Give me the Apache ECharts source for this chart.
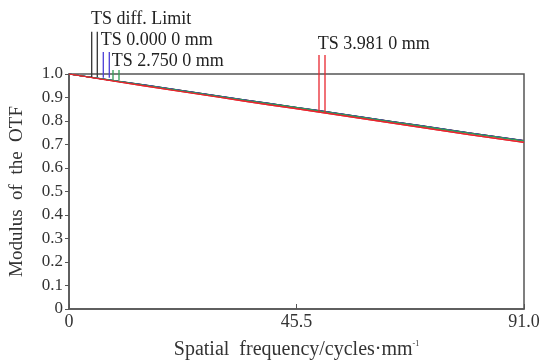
<!DOCTYPE html>
<html><head><meta charset="utf-8">
<script src="https://cdn.jsdelivr.net/npm/echarts@6/dist/echarts.min.js"></script>
<style>html,body{margin:0;padding:0;background:#fff}#c{width:543px;height:360px}</style>
</head><body><div id="c"></div>
<script>
// ---- data ----
const freq = [0, 10, 20, 30, 40, 50, 60, 70, 80, 91];
const diffT = [1.0, 0.969, 0.938, 0.906, 0.875, 0.844, 0.812, 0.781, 0.750, 0.717];
const diffS = [1.0, 0.969, 0.938, 0.906, 0.875, 0.844, 0.812, 0.781, 0.750, 0.717];
const f0T = [1.0, 0.968, 0.937, 0.905, 0.874, 0.843, 0.811, 0.780, 0.749, 0.716];
const f0S = [1.0, 0.968, 0.937, 0.905, 0.874, 0.843, 0.811, 0.780, 0.749, 0.716];
const f275T = [1.0, 0.968, 0.936, 0.904, 0.873, 0.842, 0.810, 0.779, 0.748, 0.715];
const f275S = [1.0, 0.968, 0.936, 0.904, 0.873, 0.842, 0.810, 0.779, 0.748, 0.715];
const f398T = [1.0, 0.966, 0.933, 0.901, 0.869, 0.838, 0.806, 0.774, 0.742, 0.709];
const f398S = [1.0, 0.966, 0.933, 0.901, 0.869, 0.838, 0.806, 0.774, 0.742, 0.709];
const xTicks = [0, 45.5, 91.0];
const yTicks = [0, 0.1, 0.2, 0.3, 0.4, 0.5, 0.6, 0.7, 0.8, 0.9, 1.0];
const annoLabels = ['TS diff. Limit', 'TS 0.000 0 mm', 'TS 2.750 0 mm', 'TS 3.981 0 mm'];
const annoFreqs = [[4.54, 5.66], [6.86, 8.06], [8.8, 10.0], [50.0, 51.2]];
const annoTop = [1.18, 1.094, 1.017, 1.081];
const annoBottom = [0.987, 0.984, 0.974, 0.838];
const annoTextFreq = [4.4, 6.35, 8.54, 49.75];
const annoTextVal = [1.234, 1.142, 1.053, 1.125];

// ---- styles ----
const FONT = '"Liberation Serif","Times New Roman",serif';
const colors = ['#333333', '#4b3fd6', '#2f9e55', '#e8262f'];
const pair = (a) => freq.map((x, i) => [x, a[i]]);

const chart = echarts.init(document.getElementById('c'), null, {renderer: 'canvas'});
const seriesDefs = [
  [diffT, 0], [diffS, 0], [f0T, 1], [f0S, 1], [f275T, 2], [f275S, 2], [f398T, 3], [f398S, 3]
];
chart.setOption({
  animation: false,
  backgroundColor: '#fff',
  grid: {left: 69, right: 19, top: 74, bottom: 51, show: true, borderColor: '#555', borderWidth: 1.5, outerBoundsMode: 'none'},
  xAxis: {
    type: 'value', min: 0, max: 91, interval: 45.5,
    name: 'Spatial  frequency/cycles·mm{sup|-1}', nameLocation: 'middle', nameGap: 31,
    nameTextStyle: {fontFamily: FONT, fontSize: 20, color: '#333', rich: {sup: {fontSize: 8, fontFamily: FONT, color: '#333', padding: [0, 0, 12, 0]}}},
    axisLine: {lineStyle: {color: '#555', width: 1.5}},
    axisTick: {inside: true, length: 5, lineStyle: {color: '#555'}},
    splitLine: {show: false},
    axisLabel: {fontFamily: FONT, fontSize: 18, color: '#333', margin: 4,
      formatter: v => v === 0 ? '0' : v.toFixed(1)}
  },
  yAxis: {
    type: 'value', min: 0, max: 1, interval: 0.1,
    name: 'Modulus  of  the  OTF', nameLocation: 'middle', nameGap: 42,
    nameTextStyle: {fontFamily: FONT, fontSize: 19, color: '#333'},
    axisLine: {lineStyle: {color: '#555', width: 1.5}},
    axisTick: {inside: false, length: 4, lineStyle: {color: '#555'}},
    splitLine: {show: false},
    axisLabel: {fontFamily: FONT, fontSize: 17, color: '#333', margin: 6,
      formatter: v => v === 0 ? '0' : v.toFixed(1)}
  },
  series: seriesDefs.map(([d, ci]) => ({
    type: 'line', data: pair(d), showSymbol: false, smooth: true,
    lineStyle: {color: colors[ci], width: 1.2}, z: 2 + ci
  }))
});

const g = [];
annoLabels.forEach((t, i) => {
  annoFreqs[i].forEach(f => {
    const p1 = chart.convertToPixel({gridIndex: 0}, [f, annoTop[i]]);
    const p2 = chart.convertToPixel({gridIndex: 0}, [f, annoBottom[i]]);
    g.push({type: 'line', shape: {x1: p1[0], y1: p1[1], x2: p2[0], y2: p2[1]},
      style: {stroke: colors[i], lineWidth: 1.3}, z: 10});
  });
  const tp = chart.convertToPixel({gridIndex: 0}, [annoTextFreq[i], annoTextVal[i]]);
  g.push({type: 'text', x: tp[0], y: tp[1], z: 11,
    style: {text: t, fill: '#222', font: '18px ' + FONT, textAlign: 'left', textVerticalAlign: 'middle'}});
});
chart.setOption({graphic: g});
</script></body></html>
